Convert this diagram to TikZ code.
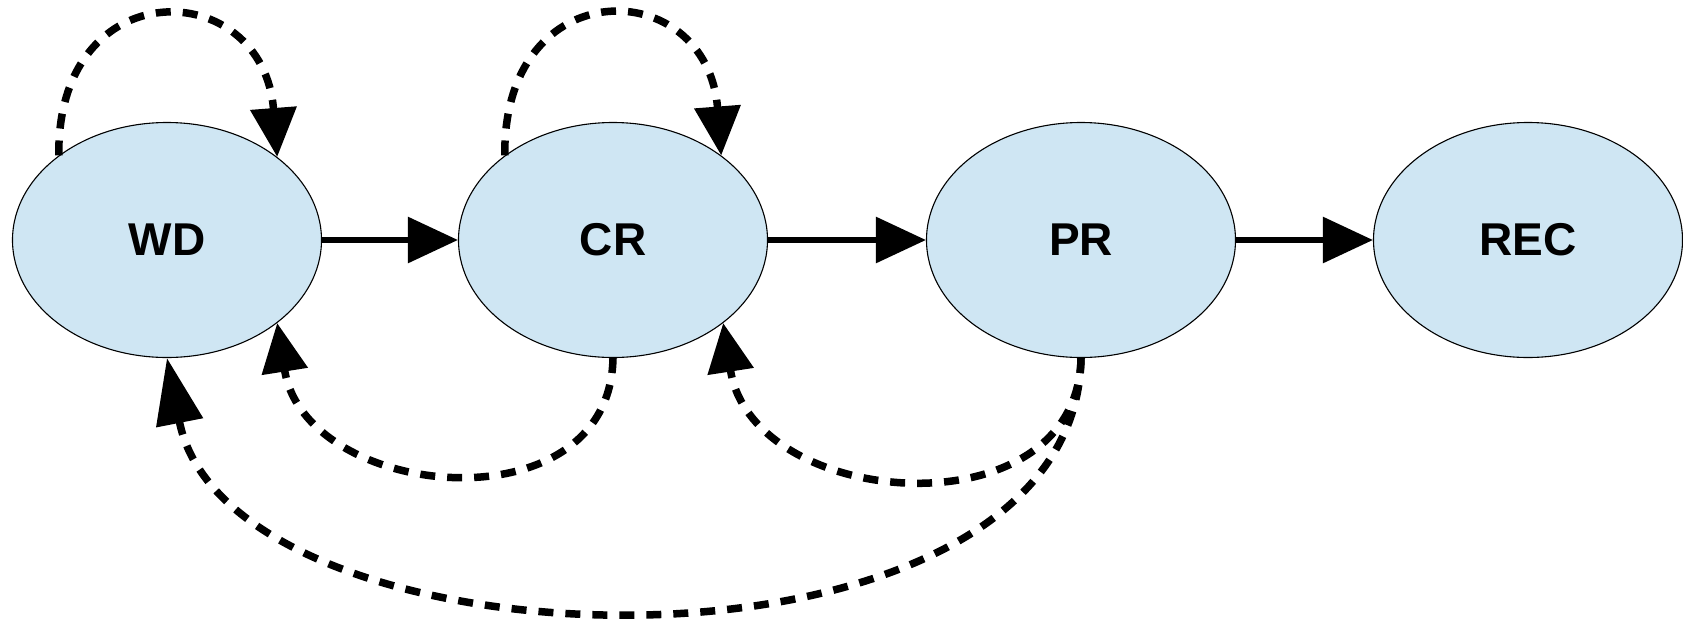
\documentclass[tikz,border=0pt]{standalone}
\usepackage{fontspec}
\setmainfont{Liberation Sans}
\usetikzlibrary{arrows.meta,shapes.geometric}
\definecolor{nodefill}{RGB}{207,230,243}
\tikzset{
  state/.style={ellipse,draw=black,line width=1.1pt,fill=nodefill,minimum width=309pt,minimum height=235pt,inner sep=0pt,font=\fontsize{46}{50}\selectfont\bfseries},
  solidarrow/.style={line width=6pt,-{Triangle[length=50pt,width=45pt]}},
  dasharrow/.style={line width=7.5pt,dash pattern=on 15pt off 12pt,-{Triangle[length=49pt,width=45pt]}},
  longdasharrow/.style={line width=7.5pt,dash pattern=on 15pt off 12pt,-{Triangle[length=66pt,width=46pt]}}
}
\begin{document}
\begin{tikzpicture}[x=1pt,y=-1pt]
\useasboundingbox (0,0) rectangle (1683,619);
\node[state] (WD) at (167,240) {WD};
\node[state] (CR) at (613,240) {CR};
\node[state] (PR) at (1081,240) {PR};
\node[state] (REC) at (1528,240) {REC};
\draw[solidarrow] (WD.east) -- (CR.west);
\draw[solidarrow] (CR.east) -- (PR.west);
\draw[solidarrow] (PR.east) -- (REC.west);
\draw[dasharrow] (WD.142) .. controls +(-2,-186) and +(-14,-182) .. (WD.37);
\draw[dasharrow] (CR.142) .. controls +(-2,-186) and +(-14,-182) .. (CR.38);
\draw[dasharrow] (CR.south) .. controls +(-3,172) and +(28,178) .. (WD.-37);
\draw[dasharrow] (PR.south) .. controls +(-3,177) and +(29,188) .. (CR.-37);
\draw[longdasharrow] (PR.south) .. controls +(-6,342) and +(63,322) .. (WD.south);
\end{tikzpicture}
\end{document}
